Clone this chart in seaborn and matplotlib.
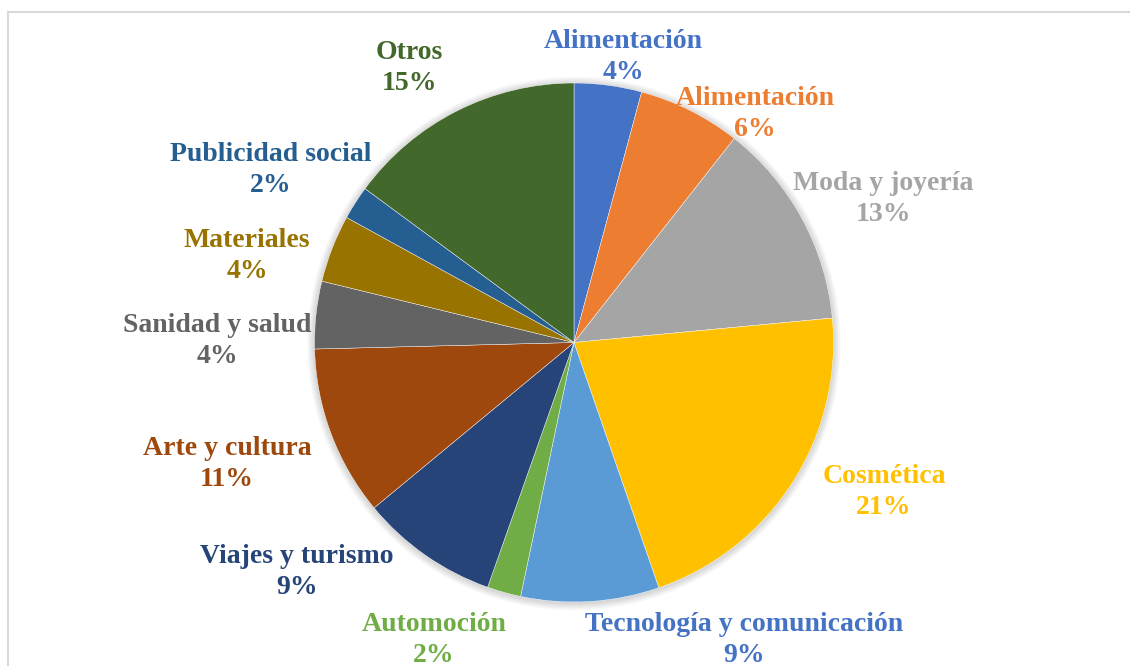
import matplotlib
matplotlib.use("Agg")
import matplotlib.pyplot as plt
from matplotlib.lines import Line2D
from matplotlib.patches import Circle
import seaborn as sns

# ---- data ----
categories = ["Alimentación", "Alimentación", "Moda y joyería", "Cosmética",
              "Tecnología y comunicación", "Automoción", "Viajes y turismo",
              "Arte y cultura", "Sanidad y salud", "Materiales",
              "Publicidad social", "Otros"]
values = [4.2, 6.4, 12.9, 21.2, 8.6, 2.1, 8.6, 10.6, 4.2, 4.2, 2.1, 14.9]
pct_labels = ["4%", "6%", "13%", "21%", "9%", "2%", "9%", "11%", "4%", "4%", "2%", "15%"]

# ---- style ----
colors = ["#4472C4", "#ED7D31", "#A5A5A5", "#FFC000", "#5B9BD5", "#70AD47",
          "#264478", "#9E480E", "#636363", "#997300", "#255E91", "#43682B"]
text_colors = ["#4472C4", "#ED7D31", "#A5A5A5", "#FFC000", "#4472C4", "#70AD47",
               "#264478", "#9E480E", "#636363", "#997300", "#255E91", "#43682B"]
# label block centres in pixel coordinates (x, y from top)
label_pos = [(623, 57), (755, 114), (883, 199), (884, 492), (744, 640),
             (434, 640), (297, 572), (227, 464), (217, 341), (247, 256),
             (271, 170), (409, 68)]

sns.set_theme(style="white")
plt.rcParams["font.family"] = ["Liberation Serif", "DejaVu Serif"]

W, H = 1130, 666
fig = plt.figure(figsize=(W / 100, H / 100), dpi=100)
ax = fig.add_axes([0, 0, 1, 1])
ax.set_xlim(0, W)
ax.set_ylim(0, H)
ax.set_aspect("equal")
ax.axis("off")

cx, cy, r = 574, H - 342.5, 259.5

# soft shadow
for i in range(8):
    ax.add_patch(Circle((cx, cy - 1), r + 1 + i * 0.9, color="#000000",
                        alpha=0.018, lw=0, zorder=0))

ax.pie(values, colors=colors, startangle=90, counterclock=False,
       center=(cx, cy), radius=r, frame=True,
       wedgeprops=dict(linewidth=0.3, edgecolor=None))
ax.set_xlim(0, W)
ax.set_ylim(0, H)
ax.axis("off")

for cat, pct, col, (lx, ly) in zip(categories, pct_labels, text_colors, label_pos):
    ax.text(lx, H - ly, f"{cat}\n{pct}", ha="center", va="center",
            color=col, fontsize=20, fontweight="bold", linespacing=1.3)

# chart frame
fig.add_artist(Line2D([8 / W, 1], [1 - 12 / H, 1 - 12 / H], color="#D9D9D9",
                      lw=1.5, transform=fig.transFigure))
fig.add_artist(Line2D([8 / W, 8 / W], [0, 1 - 12 / H], color="#D9D9D9",
                      lw=1.5, transform=fig.transFigure))

fig.savefig("out.png", dpi=100)
